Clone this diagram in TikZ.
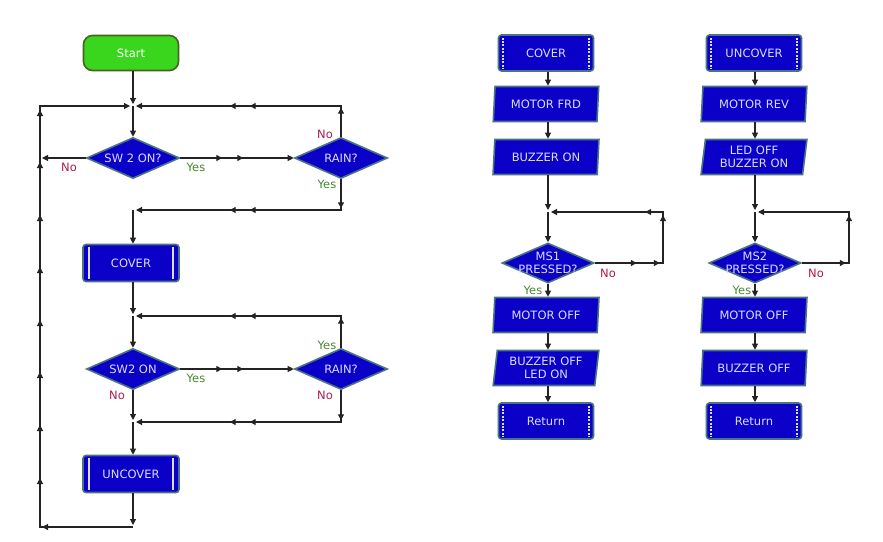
\documentclass[tikz,border=0pt]{standalone}
\usepackage{fontspec}
\setmainfont{DejaVu Sans}
\usetikzlibrary{shapes.geometric,arrows.meta,decorations.markings,calc}
\definecolor{boxblue}{RGB}{10,0,200}
\definecolor{boxedge}{RGB}{75,115,130}
\definecolor{boxtext}{RGB}{220,220,255}
\definecolor{barcol}{RGB}{220,220,240}
\definecolor{startgreen}{RGB}{58,214,30}
\definecolor{startedge}{RGB}{70,100,30}
\definecolor{notext}{RGB}{170,30,80}
\definecolor{yestext}{RGB}{70,135,50}
\definecolor{wire}{RGB}{35,35,35}
\begin{document}
\begin{tikzpicture}[x=1pt,y=-1pt,
  font=\fontsize{11.5}{13}\selectfont,
  base/.style={draw=boxedge, line width=1.6pt, fill=boxblue, text=boxtext, inner sep=0pt, align=center},
  startbox/.style={draw=startedge, line width=1.6pt, fill=startgreen, text=white, rounded corners=9pt, minimum width=95pt, minimum height=35pt},
  subbox/.style={base, rectangle, rounded corners=3pt, minimum width=96pt, minimum height=37pt,
    path picture={\draw[barcol, line width=2.2pt]
      ([xshift=6pt,yshift=-2.5pt]path picture bounding box.north west) -- ([xshift=6pt,yshift=2.5pt]path picture bounding box.south west)
      ([xshift=-6pt,yshift=-2.5pt]path picture bounding box.north east) -- ([xshift=-6pt,yshift=2.5pt]path picture bounding box.south east);}},
  macrobox/.style={base, rectangle, rounded corners=3pt, minimum width=95pt, minimum height=36pt,
    path picture={\draw[barcol, line width=2.4pt, dash pattern=on 2pt off 1.4pt]
      ([xshift=4.5pt,yshift=-2.5pt]path picture bounding box.north west) -- ([xshift=4.5pt,yshift=2.5pt]path picture bounding box.south west)
      ([xshift=-4.5pt,yshift=-2.5pt]path picture bounding box.north east) -- ([xshift=-4.5pt,yshift=2.5pt]path picture bounding box.south east);}},
  iobox/.style={base, trapezium, trapezium left angle=82, trapezium right angle=98, trapezium stretches=true, minimum width=106pt, minimum height=35pt},
  decision/.style={base, diamond, minimum width=93pt, minimum height=41pt},
  dtext/.style={text=boxtext, align=center, inner sep=0pt},
  wireline/.style={color=wire, line width=1.1pt},
  arr/.style={wireline, -{Triangle[length=6pt,width=6pt]}},
  mid/.style={postaction={decorate,decoration={markings,mark=at position #1 with {\arrow{Triangle[length=6pt,width=6pt]}}}}},
  nolab/.style={text=notext, inner sep=0pt},
  yeslab/.style={text=yestext, inner sep=0pt}
]
\useasboundingbox[fill=white] (0,0) rectangle (883,541);

% ---------- left chart ----------
\node[startbox] (start) at (131,53) {Start};
\coordinate (j1) at (133,106);
\node[decision, label={[dtext]center:SW 2 ON?}] (sw1) at (133,158) {};
\node[decision, label={[dtext]center:RAIN?}] (rain1) at (341,158) {};
\coordinate (j2) at (133,210);
\node[subbox] (cover) at (131,263) {COVER};
\coordinate (j3) at (133,316);
\node[decision, label={[dtext]center:SW2 ON}] (sw2) at (133,369) {};
\node[decision, label={[dtext]center:RAIN?}] (rain2) at (341,369) {};
\coordinate (j4) at (133,422);
\node[subbox] (uncover) at (131,474) {UNCOVER};
\coordinate (jb) at (133,527);
\coordinate (lb) at (40,527);
\coordinate (lt) at (40,106);

\draw[arr, shorten >=2pt] (start.south -| j1) -- (j1);
\draw[arr] (j1) -- (sw1.north);
\draw[arr, shorten >=2pt] (sw1.west) -- (sw1.west -| lt);
\draw[arr, mid=42pt, mid=63pt] (sw1.east) -- (rain1.west);
\draw[arr, shorten >=3pt, mid=29pt, mid=122pt, mid=142pt] (rain1.north) -- (rain1 |- j1) -- (j1);
\draw[arr, shorten >=3pt, mid=29pt, mid=122pt, mid=142pt] (rain1.south) -- (rain1 |- j2) -- (j2);
\draw[arr] (j2) -- (cover.north -| j2);
\draw[arr, shorten >=2pt] (cover.south -| j3) -- (j3);
\draw[arr] (j3) -- (sw2.north);
\draw[arr, mid=42pt, mid=63pt] (sw2.east) -- (rain2.west);
\draw[arr, shorten >=3pt, mid=30pt, mid=123pt, mid=143pt] (rain2.north) -- (rain2 |- j3) -- (j3);
\draw[arr, shorten >=2pt] (sw2.south) -- (j4);
\draw[arr, shorten >=3pt, mid=30pt, mid=123pt, mid=143pt] (rain2.south) -- (rain2 |- j4) -- (j4);
\draw[arr] (j4) -- (uncover.north -| j4);
\draw[arr, shorten >=2pt] (uncover.south -| jb) -- (jb);
\draw[arr, shorten >=3pt, mid=91pt, mid=142pt, mid=195pt, mid=248pt, mid=300pt, mid=353pt, mid=405pt, mid=458pt, mid=510pt]
  (jb) -- (lb) -- (lt) -- (j1);

\node[nolab] at (69,167) {No};
\node[yeslab] at (196,167) {Yes};
\node[nolab] at (325,134) {No};
\node[yeslab] at (327,184) {Yes};
\node[yeslab] at (196,378) {Yes};
\node[nolab] at (117,395) {No};
\node[yeslab] at (327,345) {Yes};
\node[nolab] at (325,395) {No};

% ---------- middle chart ----------
\node[macrobox] (cov2) at (546,53) {COVER};
\node[iobox] (mfrd) at (546,104) {MOTOR FRD};
\node[iobox] (bzon) at (546,157) {BUZZER ON};
\coordinate (jm) at (548,212);
\coordinate (mr) at (663,212);
\node[decision, minimum width=92pt, minimum height=40pt, label={[dtext]center:MS1\\PRESSED?}] (ms1) at (548,263) {};
\node[iobox] (moff1) at (546,315) {MOTOR OFF};
\node[iobox] (bzoff1) at (546,368) {BUZZER OFF\\LED ON};
\node[macrobox] (ret1) at (546,421) {Return};

\draw[arr] (cov2.south -| jm) -- (mfrd.north -| jm);
\draw[arr] (mfrd.south -| jm) -- (bzon.north -| jm);
\draw[arr, shorten >=2pt] (bzon.south -| jm) -- (jm);
\draw[arr] (jm) -- (ms1.north);
\draw[arr] (ms1.south) -- (moff1.north -| ms1);
\draw[arr] (moff1.south -| jm) -- (bzoff1.north -| jm);
\draw[arr] (bzoff1.south -| jm) -- (ret1.north -| jm);
\draw[arr, shorten >=3pt, mid=42pt, mid=65pt, mid=116pt, mid=137pt] (ms1.east) -- (ms1.east -| mr) -- (mr) -- (jm);
\node[nolab] at (608,273) {No};
\node[yeslab] at (533,290) {Yes};

% ---------- right chart ----------
\node[macrobox] (unc2) at (754,53) {UNCOVER};
\node[iobox] (mrev) at (754,104) {MOTOR REV};
\node[iobox] (ledoff) at (754,157) {LED OFF\\BUZZER ON};
\coordinate (jr) at (755,212);
\coordinate (rr) at (849,212);
\node[decision, minimum width=92pt, minimum height=40pt, label={[dtext]center:MS2\\PRESSED?}] (ms2) at (755,263) {};
\node[iobox] (moff2) at (754,315) {MOTOR OFF};
\node[iobox] (bzoff2) at (754,368) {BUZZER OFF};
\node[macrobox] (ret2) at (754,421) {Return};

\draw[arr] (unc2.south -| jr) -- (mrev.north -| jr);
\draw[arr] (mrev.south -| jr) -- (ledoff.north -| jr);
\draw[arr, shorten >=2pt] (ledoff.south -| jr) -- (jr);
\draw[arr] (jr) -- (ms2.north);
\draw[arr] (ms2.south) -- (moff2.north -| ms2);
\draw[arr] (moff2.south -| jr) -- (bzoff2.north -| jr);
\draw[arr] (bzoff2.south -| jr) -- (ret2.north -| jr);
\draw[arr, shorten >=3pt, mid=44pt, mid=95pt] (ms2.east) -- (ms2.east -| rr) -- (rr) -- (jr);
\node[nolab] at (816,273) {No};
\node[yeslab] at (742,290) {Yes};
\end{tikzpicture}
\end{document}
